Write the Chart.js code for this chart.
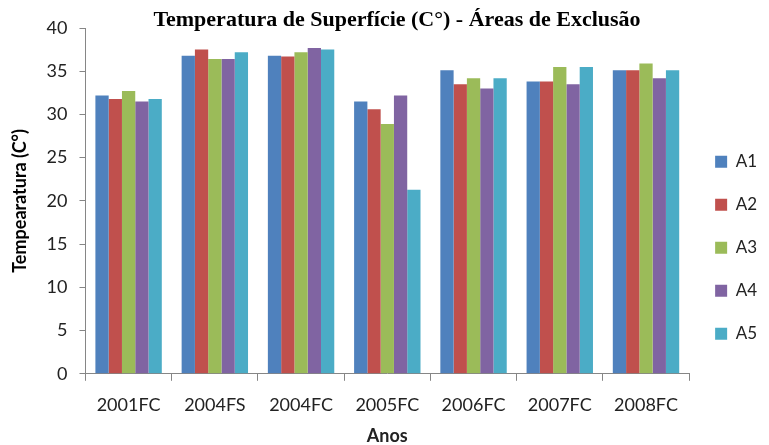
<!DOCTYPE html>
<html>
<head>
<meta charset="utf-8">
<script src="https://cdn.jsdelivr.net/npm/chart.js@4.4.1/dist/chart.umd.min.js"></script>
<style>
html,body{margin:0;padding:0;background:#fff;}
#wrap{width:769px;height:445px;}
</style>
</head>
<body>
<div id="wrap"><canvas id="c" width="769" height="445"></canvas></div>
<script>
const categories = ["2001FC","2004FS","2004FC","2005FC","2006FC","2007FC","2008FC"];
const seriesNames = ["A1","A2","A3","A4","A5"];
const A1 = [32.2, 36.8, 36.8, 31.5, 35.1, 33.8, 35.1];
const A2 = [31.8, 37.5, 36.7, 30.6, 33.5, 33.8, 35.1];
const A3 = [32.7, 36.4, 37.2, 28.9, 34.2, 35.5, 35.9];
const A4 = [31.5, 36.4, 37.7, 32.2, 33.0, 33.5, 34.2];
const A5 = [31.8, 37.2, 37.5, 21.3, 34.2, 35.5, 35.1];
const yTicks = [0,5,10,15,20,25,30,35,40];
const titleText = "Temperatura de Superfície (C°) - Áreas de Exclusão";
const colors = ["#4F81BD","#C0504D","#9BBB59","#8064A2","#4BACC6"];
const seriesData = [A1,A2,A3,A4,A5];

const sansFont = "Lato, 'Open Sans', sans-serif";
const axisGray = "#868686";

const titlePlugin = {
  id: 'customTitle',
  afterDraw(chart) {
    const ctx = chart.ctx;
    ctx.save();
    ctx.font = "bold 22px 'Liberation Serif', 'Times New Roman', serif";
    ctx.fillStyle = "#000";
    ctx.textAlign = "center";
    ctx.textBaseline = "middle";
    ctx.fillText(titleText, 397, 20);
    ctx.restore();
  }
};

new Chart(document.getElementById('c'), {
  type: 'bar',
  data: {
    labels: categories,
    datasets: seriesNames.map((n,i)=>({
      label: n,
      data: seriesData[i],
      backgroundColor: colors[i],
      borderWidth: 0,
      categoryPercentage: 0.77,
      barPercentage: 1.0
    }))
  },
  plugins: [titlePlugin],
  options: {
    responsive: false,
    animation: false,
    devicePixelRatio: 1,
    layout: { padding: { left: 4, right: 2, top: 28, bottom: -2 } },
    plugins: {
      title: { display: false },
      legend: {
        position: 'right',
        title: { display: true, text: '', padding: { top: 0, bottom: 0 }, font: { size: 17 } },
        labels: {
          boxWidth: 12, boxHeight: 12,
          padding: 26,
          color: "#222",
          font: { family: sansFont, size: 17 }
        }
      },
      tooltip: { enabled: false }
    },
    scales: {
      x: {
        grid: { display: true, drawOnChartArea: false, drawTicks: true, tickLength: 7, color: axisGray, offset: true },
        border: { display: true, color: axisGray, width: 1 },
        ticks: { color: "#222", font: { family: sansFont, size: 18 }, padding: 14 },
        title: { display: true, text: "Anos", color: "#222", font: { family: sansFont, size: 18, weight: 'bold' }, padding: { top: -5, bottom: 0 } }
      },
      y: {
        min: 0, max: 40,
        afterBuildTicks: (axis) => { axis.ticks = yTicks.map(v => ({ value: v })); },
        grid: { display: true, drawOnChartArea: false, drawTicks: true, tickLength: 6, color: axisGray },
        border: { display: true, color: axisGray, width: 1 },
        ticks: { color: "#222", font: { family: sansFont, size: 18 }, padding: 12 },
        title: { display: true, text: "Tempearatura (C°)", color: "#000", font: { family: sansFont, size: 18, weight: 'bold' }, padding: { top: 5, bottom: 4 } }
      }
    }
  }
});
</script>
</body>
</html>
